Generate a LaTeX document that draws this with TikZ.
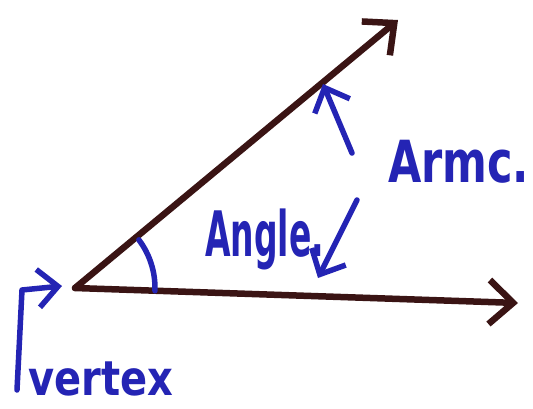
\documentclass[tikz,border=0pt]{standalone}
\usepackage{fontspec}
\setmainfont{DejaVu Sans}
\usetikzlibrary{arrows.meta}
\definecolor{raycol}{HTML}{3A1414}
\definecolor{inkblue}{HTML}{2424B4}
\tikzset{
  ray/.style={draw=raycol, line width=6.5pt, line cap=round, line join=round,
    -{Straight Barb[length=24pt,width=44pt,line width=6.5pt]}},
  pointer/.style={draw=inkblue, line width=5.5pt, line cap=round, line join=round,
    -{Straight Barb[length=20pt,width=38pt,line width=5.5pt]}},
  label/.style={text=inkblue, inner sep=0pt}
}
\begin{document}
\begin{tikzpicture}[x=1pt,y=-1pt]
\useasboundingbox (0,0) rectangle (533,408);
\coordinate (V) at (75,288);
\coordinate (U) at (398,20);
\coordinate (L) at (518,303);
\draw[ray] (V) -- (U);
\draw[ray] (V) -- (L);
% angle arc
\draw[draw=inkblue, line width=5.5pt, line cap=round] (V) ++(-37:80) arc[start angle=-37, end angle=2, radius=80];
% labels
\node[label, anchor=base west] (angle) at (205,256)
  {\scalebox{1}[1.9]{\fontsize{33}{33}\selectfont\bfseries Angle.}};
\node[label, anchor=base west] (arm) at (388,182)
  {\scalebox{1}[1.35]{\fontsize{43}{43}\selectfont\bfseries Armc.}};
\node[label, anchor=base west] (vertex) at (28,395)
  {\scalebox{1}[1.2]{\fontsize{40}{40}\selectfont\bfseries vertex}};
% pointers
\coordinate (armtip) at (323,84);
\coordinate (armtail) at (352,153);
\draw[pointer] (armtail) -- (armtip);
\coordinate (angtail) at (357,200);
\coordinate (angtip) at (318,278);
\draw[pointer] (angtail) -- (angtip);
\coordinate (vtail) at (17,390);
\coordinate (vcorner) at (22,290);
\coordinate (vtip) at (62,286);
\draw[pointer] (vtail) -- (vcorner) -- (vtip);
\end{tikzpicture}
\end{document}
